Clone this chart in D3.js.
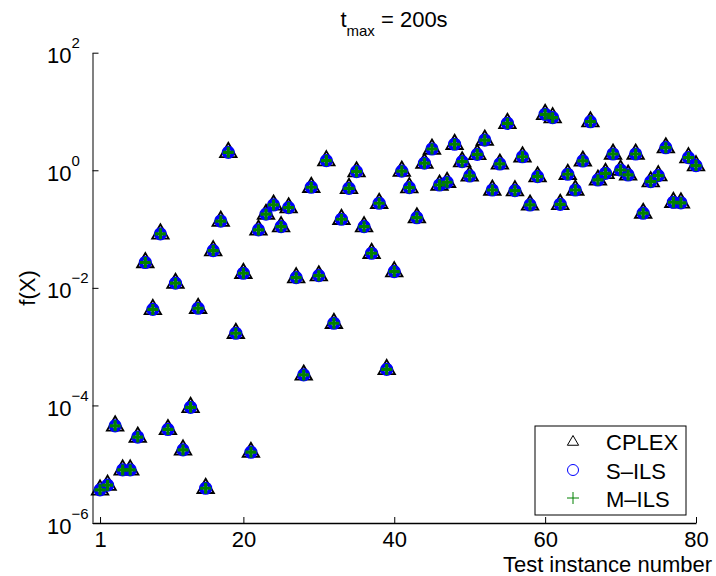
<!DOCTYPE html>
<html><head><meta charset="utf-8">
<script src="https://cdn.jsdelivr.net/npm/d3@7"></script>
<style>body{margin:0;background:#fff}text{font-family:"Liberation Sans",Arial,Helvetica,sans-serif}</style>
</head><body>
<svg id="chart" width="716" height="576"></svg>
<script>
const instances = d3.range(1, 81);
const cplex = [3.66e-6,4.4e-6,4.5e-5,8.0e-6,8.0e-6,2.9e-5,0.027,0.0043,0.083,3.9e-5,
 0.012,1.75e-5,9.3e-5,0.0045,3.9e-6,0.043,0.137,2.02,0.00169,0.0177,
 1.6e-5,0.0966,0.179,0.257,0.11,0.231,0.0149,3.3e-4,0.514,0.0161,
 1.46,0.0025,0.147,0.494,0.946,0.11,0.0388,0.275,4.1e-4,0.0189,
 0.97,0.506,0.156,1.32,2.30,0.562,0.625,2.77,1.40,0.80,
 1.87,3.27,0.462,1.28,6.3,0.45,1.70,0.257,0.778,8.96,
 7.85,0.264,0.855,0.462,1.44,6.7,0.684,0.889,1.89,1.01,
 0.832,1.89,0.186,0.64,0.81,2.42,0.286,0.28,1.64,1.20];
const sils = [3.66e-6,4.4e-6,4.5e-5,8.0e-6,8.0e-6,2.9e-5,0.027,0.0043,0.083,3.9e-5,
 0.012,1.75e-5,9.3e-5,0.0045,3.9e-6,0.043,0.137,2.02,0.00169,0.0177,
 1.6e-5,0.0966,0.179,0.257,0.11,0.231,0.0149,3.3e-4,0.514,0.0161,
 1.46,0.0025,0.147,0.494,0.946,0.11,0.0388,0.275,4.1e-4,0.0189,
 0.97,0.506,0.156,1.32,2.30,0.562,0.625,2.77,1.40,0.80,
 1.87,3.27,0.462,1.28,6.3,0.45,1.70,0.257,0.778,8.96,
 7.85,0.264,0.855,0.462,1.44,6.7,0.684,0.889,1.89,1.01,
 0.832,1.89,0.186,0.64,0.81,2.42,0.286,0.28,1.64,1.20];
const mils = [3.66e-6,4.4e-6,4.5e-5,8.0e-6,8.0e-6,2.9e-5,0.027,0.0043,0.083,3.9e-5,
 0.012,1.75e-5,9.3e-5,0.0045,3.9e-6,0.043,0.137,2.02,0.00169,0.0177,
 1.6e-5,0.0966,0.179,0.257,0.11,0.231,0.0149,3.3e-4,0.514,0.0161,
 1.46,0.0025,0.147,0.494,0.946,0.11,0.0388,0.275,4.1e-4,0.0189,
 0.97,0.506,0.156,1.32,2.30,0.562,0.625,2.77,1.40,0.80,
 1.87,3.27,0.462,1.28,6.3,0.45,1.70,0.257,0.778,8.96,
 7.85,0.264,0.855,0.462,1.44,6.7,0.684,0.889,1.89,1.01,
 0.832,1.89,0.186,0.64,0.81,2.42,0.286,0.28,1.64,1.20];
const xTicks = [1, 20, 40, 60, 80];
const yTickExps = [2, 0, -2, -4, -6];
const seriesNames = ["CPLEX", "S\u2013ILS", "M\u2013ILS"];

const svg = d3.select("#chart");
const x = d3.scaleLinear().domain([0, 80]).range([92.5, 696]);
const y = d3.scaleLog().domain([1e-6, 1e2]).range([523, 52.7]);

// axes
const gx = svg.append("g").attr("transform", "translate(0,523)")
  .call(d3.axisBottom(x).tickValues(xTicks).tickSizeInner(-6).tickSizeOuter(0).tickPadding(12).tickFormat(d3.format("d")));
gx.select(".domain").attr("stroke", "#000").attr("stroke-width", 1.3);
gx.selectAll(".tick line").attr("stroke", "#000");
gx.selectAll(".tick text").attr("font-size", 22).attr("fill", "#000").attr("dy", null).attr("y", 24);

const gy = svg.append("g").attr("transform", "translate(92.5,0)")
  .call(d3.axisLeft(y).tickValues(yTickExps.map(e => Math.pow(10, e))).tickSizeInner(-6).tickSizeOuter(0).tickFormat(""));
gy.select(".domain").attr("stroke", "#808080").attr("stroke-width", 2);
gy.selectAll(".tick line").attr("stroke", "#000");
gy.selectAll(".tick").each(function(d) {
  const e = Math.round(Math.log10(d));
  const t = d3.select(this).append("text").attr("x", 47 - 92.5).attr("y", 10)
    .attr("text-anchor", "start").attr("font-size", 22).attr("fill", "#000");
  t.append("tspan").text("10");
  t.append("tspan").attr("dy", -15).attr("font-size", 15).text(e < 0 ? "\u2212" + (-e) : String(e));
});

// markers
const R = 9.5;
const triPath = `M0,${-R}L${R*0.866},${R/2}L${-R*0.866},${R/2}Z`;
svg.append("g").selectAll("path").data(cplex).join("path")
  .attr("d", triPath).attr("transform", (d, i) => `translate(${x(instances[i])},${y(d)})`)
  .attr("fill", "none").attr("stroke", "#000").attr("stroke-width", 1.8);
svg.append("g").selectAll("circle").data(sils).join("circle")
  .attr("cx", (d, i) => x(instances[i])).attr("cy", d => y(d)).attr("r", 4.6)
  .attr("fill", "none").attr("stroke", "#0000ff").attr("stroke-width", 4);
svg.append("g").selectAll("path").data(mils).join("path")
  .attr("d", "M-5.5,0H5.5M0,-5.5V5.5").attr("transform", (d, i) => `translate(${x(instances[i])},${y(d)})`)
  .attr("fill", "none").attr("stroke", "#008000").attr("stroke-width", 3.2);

// title
const title = svg.append("text").attr("x", 394).attr("y", 27).attr("text-anchor", "middle")
  .attr("font-size", 22).attr("fill", "#000");
title.append("tspan").text("t");
title.append("tspan").attr("dy", 9).attr("font-size", 15).text("max");
title.append("tspan").attr("dy", -9).text(" = 200s");

// axis labels
svg.append("text").attr("x", 712).attr("y", 572).attr("text-anchor", "end")
  .attr("font-size", 22).attr("fill", "#000").text("Test instance number");
svg.append("text").attr("transform", "translate(35,288) rotate(-90)").attr("text-anchor", "middle")
  .attr("font-size", 22).attr("fill", "#000").text("f(X)");

// legend
const lg = svg.append("g");
lg.append("rect").attr("x", 535).attr("y", 426).attr("width", 151).attr("height", 89)
  .attr("fill", "#fff").attr("stroke", "#000").attr("stroke-width", 1);
const ly = [441, 470, 498];
const lr = 6.5;
lg.append("path").attr("d", `M0,${-lr}L${lr*0.866},${lr/2}L${-lr*0.866},${lr/2}Z`)
  .attr("transform", `translate(573,${ly[0]+1})`).attr("fill", "none").attr("stroke", "#000").attr("stroke-width", 1);
lg.append("circle").attr("cx", 573).attr("cy", ly[1]).attr("r", 5.5).attr("fill", "none").attr("stroke", "#0000ff").attr("stroke-width", 1);
lg.append("path").attr("d", "M-6,0H6M0,-6V6").attr("transform", `translate(573,${ly[2]})`).attr("fill", "none").attr("stroke", "#008000").attr("stroke-width", 1);
seriesNames.forEach((n, i) => {
  lg.append("text").attr("x", 606).attr("y", ly[i] + 9).attr("font-size", 22).attr("fill", "#000").text(n);
});
</script>
</body></html>
